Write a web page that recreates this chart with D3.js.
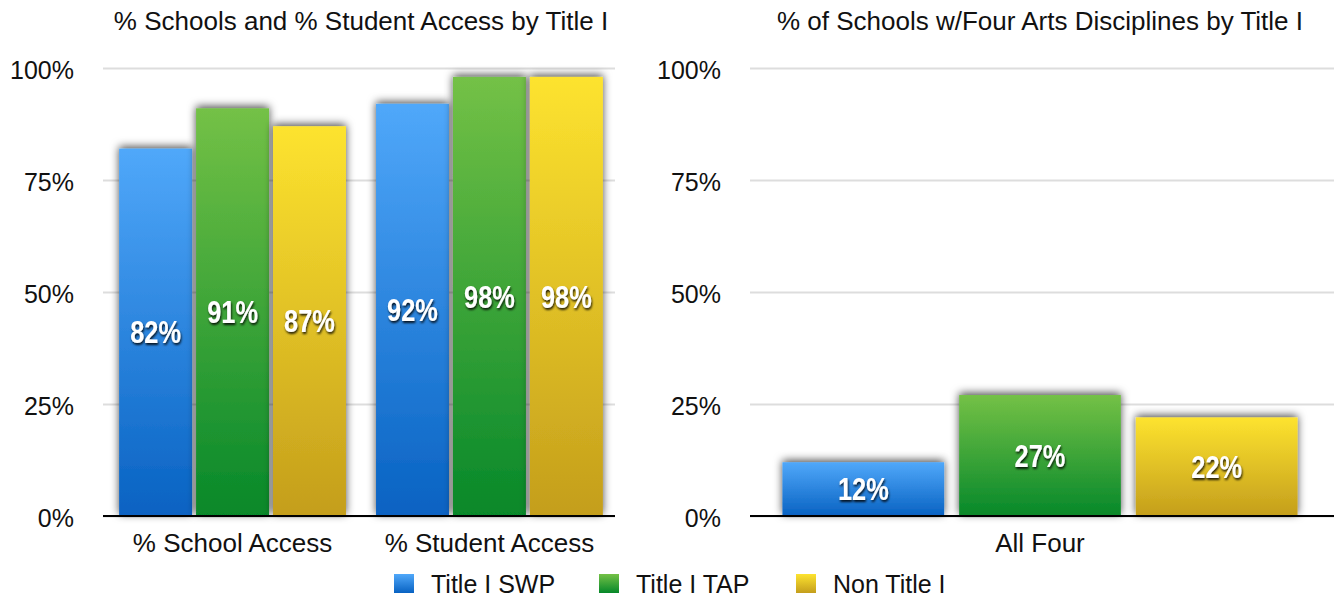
<!DOCTYPE html>
<meta charset="utf-8">
<style>
body{ margin:0; background:#fff; overflow:hidden; }
text{ font-family: "Liberation Sans", Arial, sans-serif; fill:#111; }
.val{ font-weight:bold; fill:#fff; }
</style>
<body></body>
<script src="https://cdn.jsdelivr.net/npm/d3@7"></script>
<script>

var series = ['Title I SWP', 'Title I TAP', 'Non Title I']
var leftCats = ['% School Access', '% Student Access']
var leftVals = [[82, 91, 87], [92, 98, 98]]
var rightCats = ['All Four']
var rightVals = [[12, 27, 22]]
var ticks = [0, 25, 50, 75, 100]
var titles = ['% Schools and % Student Access by Title I', '% of Schools w/Four Arts Disciplines by Title I']

var grads = [['#50a8fa', '#0862c2'], ['#74c146', '#06882a'], ['#fde32f', '#c49e1c']]

var width = 1334, height = 597

var svg = d3.select('body').append('svg')
	.attr('width', width).attr('height', height)
	.style('display', 'block')

var defs = svg.append('defs')
grads.forEach(function(g, i){
	var lg = defs.append('linearGradient').attr('id', 'g' + i)
		.attr('x1', 0).attr('y1', 0).attr('x2', 0).attr('y2', 1)
	lg.append('stop').attr('offset', '0%').attr('stop-color', g[0])
	lg.append('stop').attr('offset', '100%').attr('stop-color', g[1])
})
defs.append('filter').attr('id', 'shadow')
	.attr('x', '-30%').attr('y', '-30%').attr('width', '160%').attr('height', '160%')
	.append('feDropShadow').attr('dx', 0).attr('dy', -2).attr('stdDeviation', 4.5)
	.attr('flood-color', '#000').attr('flood-opacity', 0.7)
defs.append('filter').attr('id', 'tshadow')
	.append('feDropShadow').attr('dx', 1).attr('dy', 2).attr('stdDeviation', 1.2)
	.attr('flood-color', '#000').attr('flood-opacity', 0.85)

var y = d3.scaleLinear().domain([0, 100]).range([516, 68])

function drawChart(opt){
	var g = svg.append('g')
	var x0 = d3.scaleBand().domain(opt.cats).range(opt.range)
		.paddingInner(opt.padIn).paddingOuter(opt.padOut)
	var x1 = d3.scaleBand().domain(d3.range(series.length)).range([0, x0.bandwidth()])
		.paddingInner(opt.barPad)

	var ax = g.append('g')
		.attr('transform', 'translate(' + opt.grid[0] + ',0)')
		.call(d3.axisLeft(y).tickValues(ticks).tickFormat(function(d){ return d + '%' })
			.tickSize(-(opt.grid[1] - opt.grid[0])).tickPadding(29))
	ax.select('.domain').remove()
	ax.selectAll('line').attr('stroke', '#ddd').attr('stroke-width', 2)
	ax.selectAll('text').style('font-size', '25px').attr('fill', '#111')
		.attr('dy', '0.4em').style('font-family', '"Liberation Sans", Arial, sans-serif')

	var groups = g.selectAll('g.grp').data(opt.vals).enter().append('g')
		.attr('class', 'grp')
		.attr('transform', function(d, i){ return 'translate(' + x0(opt.cats[i]) + ',0)' })

	groups.selectAll('rect').data(function(d){ return d }).enter().append('rect')
		.attr('x', function(d, i){ return x1(i) })
		.attr('width', x1.bandwidth())
		.attr('y', function(d){ return y(d) })
		.attr('height', function(d){ return y(0) - y(d) })
		.attr('fill', function(d, i){ return 'url(#g' + i + ')' })
		.attr('filter', 'url(#shadow)')

	groups.selectAll('g.lab').data(function(d){ return d }).enter().append('g')
		.attr('class', 'lab')
		.attr('transform', function(d, i){
			return 'translate(' + (x1(i) + x1.bandwidth() / 2) + ',' + ((y(d) + y(0)) / 2) + ') scale(0.82,1)'
		})
		.append('text')
		.attr('class', 'val')
		.attr('dy', '0.36em')
		.attr('text-anchor', 'middle')
		.style('font-size', '31px')
		.attr('filter', 'url(#tshadow)')
		.text(function(d){ return d + '%' })

	g.append('line')
		.attr('x1', opt.grid[0]).attr('x2', opt.grid[1])
		.attr('y1', y(0)).attr('y2', y(0))
		.attr('stroke', '#000').attr('stroke-width', 2)

	g.selectAll('text.cat').data(opt.cats).enter().append('text')
		.attr('class', 'cat')
		.attr('x', function(d){ return x0(d) + x0.bandwidth() / 2 })
		.attr('y', 552)
		.attr('text-anchor', 'middle')
		.style('font-size', '26px')
		.text(function(d){ return d })

	g.append('text')
		.attr('x', opt.titleX).attr('y', 30)
		.attr('text-anchor', 'middle')
		.style('font-size', '26px')
		.text(opt.title)
}

drawChart({cats: leftCats, vals: leftVals, range: [105, 617], grid: [103, 615],
	padIn: 0.117, padOut: 0.055, barPad: 0.052, title: titles[0], titleX: 361})
drawChart({cats: rightCats, vals: rightVals, range: [750, 1330], grid: [750, 1334],
	padIn: 0, padOut: 0.063, barPad: 0.085, title: titles[1], titleX: 1040})

// legend
var legX = [394, 599, 796]
var leg = svg.selectAll('g.leg').data(series).enter().append('g')
	.attr('transform', function(d, i){ return 'translate(' + legX[i] + ',574)' })
leg.append('rect').attr('width', 20).attr('height', 19)
	.attr('fill', function(d, i){ return 'url(#g' + i + ')' })
leg.append('text').attr('x', 37).attr('y', 19)
	.style('font-size', '25px')
	.text(function(d){ return d })

</script>
